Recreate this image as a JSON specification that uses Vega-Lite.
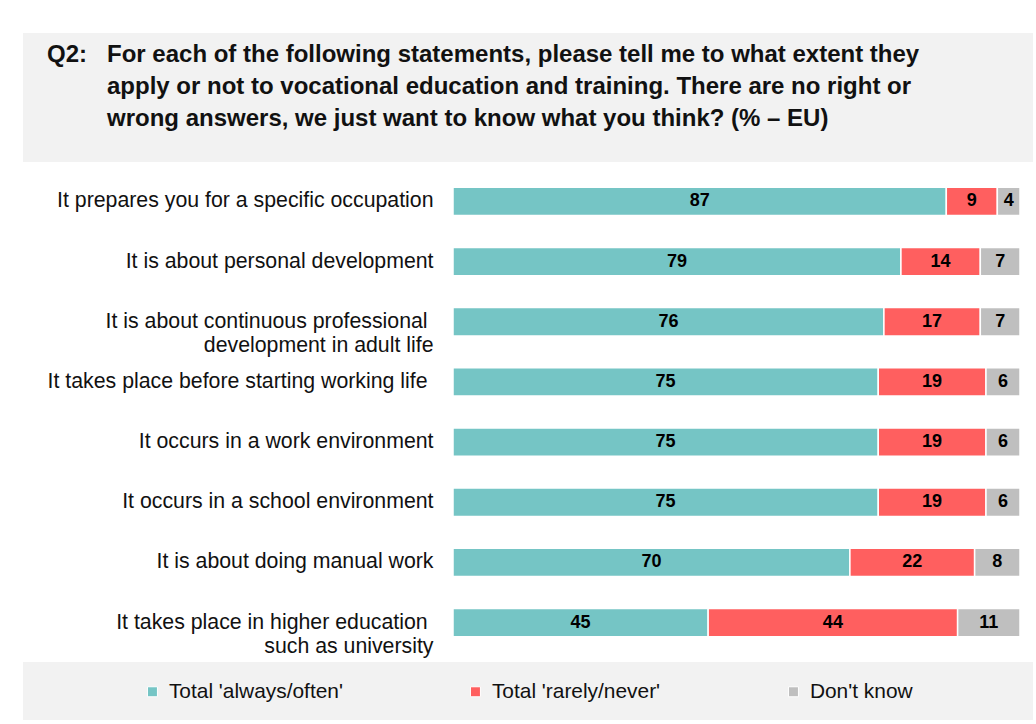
{
  "$schema": "https://vega.github.io/schema/vega-lite/v6.json",
  "padding": {"left": 23, "top": 33, "right": 0, "bottom": 0},
  "background": "white",
  "spacing": 0,
  "config": {"font": "Liberation Sans", "view": {"stroke": null}},
  "datasets": {
    "answers": [
      {"statement": "It prepares you for a specific occupation", "answer": "Total 'always/often'", "code": 1, "pct": 87},
      {"statement": "It prepares you for a specific occupation", "answer": "Total 'rarely/never'", "code": 2, "pct": 9},
      {"statement": "It prepares you for a specific occupation", "answer": "Don't know", "code": 3, "pct": 4},
      {"statement": "It is about personal development", "answer": "Total 'always/often'", "code": 1, "pct": 79},
      {"statement": "It is about personal development", "answer": "Total 'rarely/never'", "code": 2, "pct": 14},
      {"statement": "It is about personal development", "answer": "Don't know", "code": 3, "pct": 7},
      {"statement": "It is about continuous professional\u00a0\u200b\ndevelopment in adult life", "answer": "Total 'always/often'", "code": 1, "pct": 76},
      {"statement": "It is about continuous professional\u00a0\u200b\ndevelopment in adult life", "answer": "Total 'rarely/never'", "code": 2, "pct": 17},
      {"statement": "It is about continuous professional\u00a0\u200b\ndevelopment in adult life", "answer": "Don't know", "code": 3, "pct": 7},
      {"statement": "It takes place before starting working life\u00a0\u200b", "answer": "Total 'always/often'", "code": 1, "pct": 75},
      {"statement": "It takes place before starting working life\u00a0\u200b", "answer": "Total 'rarely/never'", "code": 2, "pct": 19},
      {"statement": "It takes place before starting working life\u00a0\u200b", "answer": "Don't know", "code": 3, "pct": 6},
      {"statement": "It occurs in a work environment", "answer": "Total 'always/often'", "code": 1, "pct": 75},
      {"statement": "It occurs in a work environment", "answer": "Total 'rarely/never'", "code": 2, "pct": 19},
      {"statement": "It occurs in a work environment", "answer": "Don't know", "code": 3, "pct": 6},
      {"statement": "It occurs in a school environment", "answer": "Total 'always/often'", "code": 1, "pct": 75},
      {"statement": "It occurs in a school environment", "answer": "Total 'rarely/never'", "code": 2, "pct": 19},
      {"statement": "It occurs in a school environment", "answer": "Don't know", "code": 3, "pct": 6},
      {"statement": "It is about doing manual work", "answer": "Total 'always/often'", "code": 1, "pct": 70},
      {"statement": "It is about doing manual work", "answer": "Total 'rarely/never'", "code": 2, "pct": 22},
      {"statement": "It is about doing manual work", "answer": "Don't know", "code": 3, "pct": 8},
      {"statement": "It takes place in higher education\u00a0\u200b\nsuch as university", "answer": "Total 'always/often'", "code": 1, "pct": 45},
      {"statement": "It takes place in higher education\u00a0\u200b\nsuch as university", "answer": "Total 'rarely/never'", "code": 2, "pct": 44},
      {"statement": "It takes place in higher education\u00a0\u200b\nsuch as university", "answer": "Don't know", "code": 3, "pct": 11}
    ]
  },
  "vconcat": [
    {
      "width": 1010,
      "height": 129,
      "view": {"fill": "#f2f2f2", "stroke": null},
      "data": {"values": [{"note": ""}]},
      "mark": {"type": "text"},
      "encoding": {"text": {"field": "note"}},
      "title": {
        "text": [
          "Q2:\u00a0\u00a0\u00a0For each of the following statements, please tell me to what extent they",
          "\u200b\u00a0\u00a0\u00a0\u00a0\u00a0\u00a0\u00a0\u00a0\u00a0apply or not to vocational education and training. There are no right or",
          "\u200b\u00a0\u00a0\u00a0\u00a0\u00a0\u00a0\u00a0\u00a0\u00a0wrong answers, we just want to know what you think? (% \u2013 EU)"
        ],
        "anchor": "start",
        "frame": "group",
        "orient": "top",
        "baseline": "alphabetic",
        "offset": -117,
        "dx": 24,
        "font": "Liberation Sans",
        "fontSize": 24,
        "fontWeight": "bold",
        "color": "#111111",
        "lineHeight": 32
      }
    },
    {
      "width": 1010,
      "height": 500,
      "data": {"name": "answers"},
      "encoding": {
        "y": {
          "field": "statement",
          "type": "nominal",
          "sort": null,
          "scale": {"paddingInner": 0.53, "paddingOuter": 0.42},
          "axis": {
            "title": null,
            "domain": false,
            "ticks": false,
            "tickSize": 0,
            "labelPadding": 0,
            "offset": -410,
            "labelFont": "Liberation Sans",
            "labelFontSize": 21.3,
            "labelColor": "#111111",
            "labelLimit": 0,
            "labelAlign": "right",
            "labelBaseline": "middle",
            "labelLineHeight": 24.5,
            "labelExpr": "split(datum.value, '\\n')"
          }
        },
        "x": {
          "field": "pct",
          "type": "quantitative",
          "stack": "zero",
          "scale": {"domain": [0, 100], "range": [430, 997], "nice": false},
          "axis": null
        },
        "order": {"field": "code"}
      },
      "layer": [
        {
          "mark": {"type": "bar", "stroke": "white", "strokeWidth": 1.5},
          "encoding": {
            "color": {
              "field": "answer",
              "type": "nominal",
              "scale": {
                "domain": ["Total 'always/often'", "Total 'rarely/never'", "Don't know"],
                "range": ["#75c5c5", "#ff5f5f", "#bfbfbf"]
              },
              "legend": {
                "title": null,
                "orient": "none",
                "direction": "horizontal",
                "legendX": 119,
                "legendY": 648,
                "symbolType": "square",
                "symbolSize": 100,
                "symbolStrokeColor": "white",
                "symbolStrokeWidth": 1,
                "symbolOpacity": 1,
                "labelFont": "Liberation Sans",
                "labelFontSize": 20.9,
                "labelColor": "#111111",
                "labelLimit": 0,
                "labelOffset": 6,
                "columnPadding": 122
              }
            }
          }
        },
        {
          "mark": {"type": "text", "color": "#000000", "fontSize": 18, "fontWeight": "bold", "align": "center", "baseline": "middle"},
          "encoding": {
            "x": {"field": "pct", "type": "quantitative", "stack": "zero", "bandPosition": 0.5},
            "detail": {"field": "answer"},
            "text": {"field": "pct", "type": "quantitative"}
          }
        }
      ]
    },
    {
      "width": 1010,
      "height": 58,
      "view": {"fill": "#f2f2f2", "stroke": null},
      "data": {"values": [{"note": ""}]},
      "mark": {"type": "text"},
      "encoding": {"text": {"field": "note"}}
    }
  ]
}
